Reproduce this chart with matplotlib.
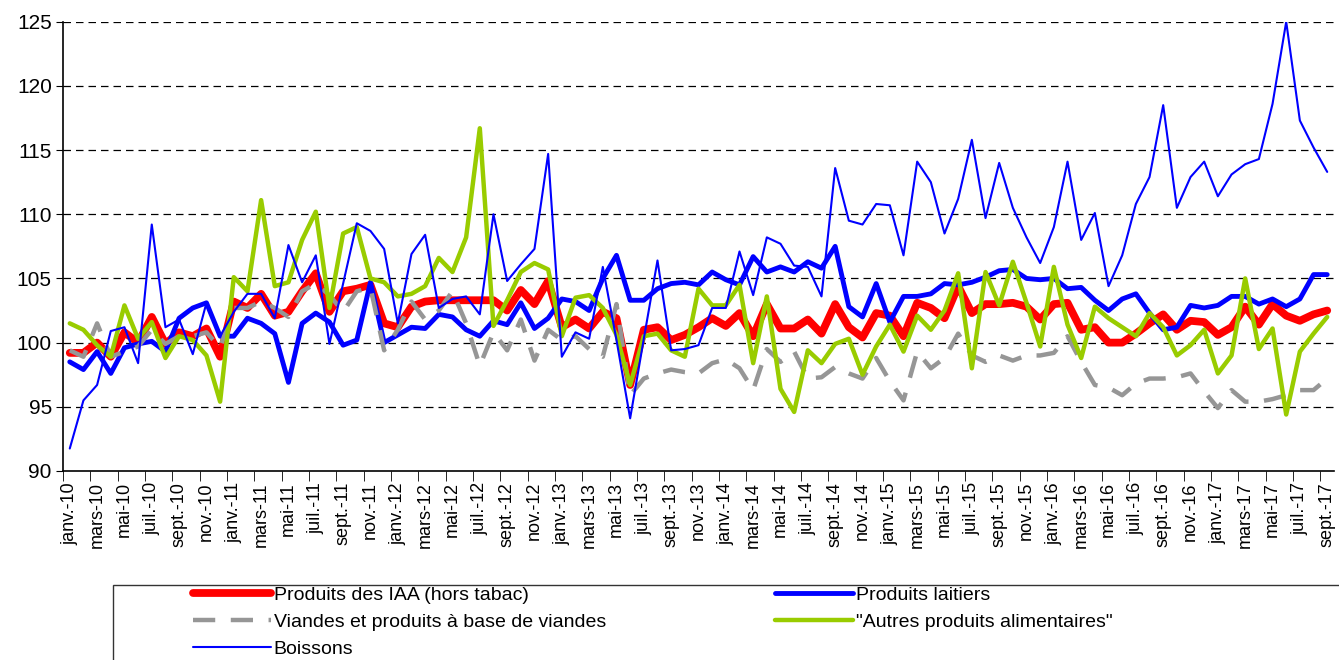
import numpy as np
import matplotlib
matplotlib.use("Agg")
import matplotlib.pyplot as plt
from matplotlib.patches import Rectangle

plt.rcParams["font.family"] = ["Liberation Sans", "DejaVu Sans"]

# Months janv.-10 .. sept.-17
month_names = ["janv.", "févr.", "mars", "avr.", "mai", "juin",
               "juil.", "août", "sept.", "oct.", "nov.", "déc."]
years = ["10", "11", "12", "13", "14", "15", "16", "17"]
labels = [m + "-" + y for y in years for m in month_names][:93]

iaa = [99.2, 99.2, 100.0, 98.9, 100.8, 100.0, 102.0, 99.9, 100.8, 100.5, 101.1, 98.9,
       103.2, 102.7, 103.8, 102.1, 102.4, 104.0, 105.4, 102.4, 104.0, 104.2, 104.5, 101.5,
       101.2, 102.8, 103.2, 103.3, 103.3, 103.3, 103.3, 103.3, 102.5, 104.1, 103.0, 104.8,
       101.2, 101.8, 101.1, 102.4, 101.9, 96.7, 101.0, 101.2, 100.2, 100.6, 101.2, 101.9,
       101.3, 102.3, 100.5, 103.0, 101.1, 101.1, 101.8, 100.7, 103.0, 101.2, 100.4, 102.3,
       102.1, 100.5, 103.1, 102.7, 101.9, 104.4, 102.3, 103.0, 103.0, 103.1, 102.8, 101.8,
       103.0, 103.1, 101.0, 101.2, 100.0, 100.0, 100.7, 101.5, 102.2, 101.0, 101.7, 101.6,
       100.6, 101.2, 102.8, 101.4, 103.0, 102.1, 101.7, 102.2, 102.5]

laitiers = [98.5, 97.9, 99.3, 97.6, 99.6, 99.9, 100.1, 99.3, 101.9, 102.7, 103.1, 100.5,
            100.5, 101.9, 101.5, 100.7, 96.9, 101.5, 102.3, 101.6, 99.8, 100.2, 104.7, 100.0,
            100.6, 101.2, 101.1, 102.2, 102.0, 101.0, 100.5, 101.7, 101.4, 103.1, 101.1, 101.9,
            103.4, 103.2, 102.5, 105.0, 106.8, 103.3, 103.3, 104.2, 104.6, 104.7, 104.5, 105.5,
            104.9, 104.5, 106.7, 105.5, 105.9, 105.5, 106.3, 105.8, 107.5, 102.8, 102.0, 104.6,
            101.6, 103.6, 103.6, 103.8, 104.6, 104.5, 104.7, 105.1, 105.6, 105.7, 105.0, 104.9,
            105.0, 104.2, 104.3, 103.3, 102.5, 103.4, 103.8, 102.3, 101.0, 101.2, 102.9, 102.7,
            102.9, 103.6, 103.6, 103.0, 103.4, 102.8, 103.4, 105.3, 105.3]

viandes = [99.4, 98.9, 101.5, 98.9, 99.3, 99.7, 101.0, 99.9, 100.5, 100.5, 100.8, 99.6,
           102.7, 102.7, 103.2, 102.7, 102.0, 104.0, 104.6, 103.7, 102.4, 104.0, 104.3, 99.4,
           101.0, 103.2, 101.8, 102.5, 104.0, 101.5, 98.2, 100.8, 99.4, 101.8, 98.6, 101.0,
           100.2, 100.5, 99.5, 98.9, 103.0, 95.9, 97.2, 97.6, 97.9, 97.7, 97.6, 98.4,
           98.7, 98.0, 96.3, 99.5, 98.5, 99.3, 97.2, 97.3, 98.1, 97.6, 97.2, 98.8,
           97.0, 95.5, 99.3, 98.0, 98.8, 100.7, 99.0, 98.5, 99.0, 98.6, 99.0, 99.0,
           99.2, 100.5, 98.5, 96.7, 96.5, 95.9, 96.8, 97.2, 97.2, 97.3, 97.6, 96.2,
           94.9, 96.3, 95.4, 95.4, 95.6, 95.9, 96.3, 96.3, 97.2]

autres = [101.5, 101.0, 99.8, 98.9, 102.9, 100.3, 101.6, 98.8, 100.5, 100.2, 99.0, 95.4,
          105.1, 104.0, 111.1, 104.4, 104.7, 108.0, 110.2, 102.7, 108.5, 109.0, 105.0, 104.7,
          103.6, 103.8, 104.4, 106.6, 105.5, 108.2, 116.7, 101.3, 103.3, 105.5, 106.2, 105.7,
          100.5, 103.5, 103.7, 102.7, 100.6, 96.7, 100.5, 100.7, 99.4, 98.9, 104.2, 102.9,
          102.9, 104.5, 98.4, 103.6, 96.4, 94.6, 99.4, 98.4, 99.9, 100.3, 97.5, 99.7,
          101.4, 99.3, 102.1, 101.0, 102.5, 105.4, 98.0, 105.5, 102.9, 106.3, 103.1, 99.7,
          105.9, 101.4, 98.8, 102.8, 101.9, 101.2, 100.5, 102.3, 101.2, 99.0, 99.8, 101.0,
          97.6, 99.0, 105.0, 99.5, 101.1, 94.4, 99.3, 100.7, 102.0]

boissons = [91.75, 95.5, 96.7, 100.9, 101.2, 98.4, 109.2, 101.2, 101.8, 99.1, 103.1, 100.5,
            102.4, 103.8, 103.8, 101.9, 107.6, 104.7, 106.8, 99.9, 104.6, 109.3, 108.7, 107.3,
            101.5, 106.9, 108.4, 102.7, 103.4, 103.6, 102.2, 110.0, 104.8, 106.1, 107.3, 114.7,
            98.9, 100.8, 100.3, 105.9, 100.2, 94.1, 100.3, 106.4, 99.4, 99.5, 99.8, 102.7,
            102.7, 107.1, 103.7, 108.2, 107.7, 106.0, 105.9, 103.6, 113.6, 109.5, 109.2, 110.8,
            110.7, 106.8, 114.1, 112.5, 108.5, 111.2, 115.8, 109.7, 114.0, 110.5, 108.2, 106.2,
            109.0, 114.1, 108.0, 110.1, 104.4, 106.8, 110.8, 112.9, 118.5, 110.5, 112.9, 114.1,
            111.4, 113.1, 113.9, 114.3, 118.6, 125.0, 117.3, 115.2, 113.3]

x = np.arange(len(labels))

fig = plt.figure(figsize=(13.39, 6.6), dpi=100)
ax = fig.add_axes([0.047, 0.2864, 0.9493, 0.6807])

rnd = dict(solid_joinstyle="round", solid_capstyle="round")
l1, = ax.plot(x, iaa, color="#FF0000", lw=5.6, label="Produits des IAA (hors tabac)", **rnd)
l2, = ax.plot(x, laitiers, color="#0000FF", lw=3.5, label="Produits laitiers", **rnd)
l3, = ax.plot(x, viandes, color="#969696", lw=3.2, dashes=(5, 3.5),
              label="Viandes et produits à base de viandes")
l4, = ax.plot(x, autres, color="#99CC00", lw=3.2, label='"Autres produits alimentaires"', **rnd)
l5, = ax.plot(x, boissons, color="#0000FF", lw=1.5, label="Boissons", **rnd)

ax.set_xlim(-0.5, len(labels) - 0.5)
ax.set_ylim(90, 125)
ax.set_yticks(np.arange(90, 126, 5))
ax.tick_params(axis="y", labelsize=15, length=5, direction="out", pad=3)
for v in range(95, 126, 5):
    ax.axhline(v, color="black", lw=0.9, dashes=(6, 4), zorder=0)

ax.set_xticks(x[::2])
ax.set_xticklabels(labels[::2], rotation=90, fontsize=13)
ax.tick_params(axis="x", which="major", length=0, pad=8)
ax.set_xticks(np.arange(-0.5, len(labels), 2), minor=True)
ax.tick_params(axis="x", which="minor", length=7, direction="out")

for s in ["top", "right"]:
    ax.spines[s].set_visible(False)
for s in ["left", "bottom"]:
    ax.spines[s].set_linewidth(1.2)

# legend box (cut by the figure edges, as in the source)
fig.patches.append(Rectangle((113 / 1339, -0.05), 1.0, 1 - 585 / 660 + 0.05,
                             transform=fig.transFigure, fill=False,
                             edgecolor="#333333", lw=1.0))
leg_kw = dict(frameon=False, fontsize=14, handlelength=4.0, handletextpad=0.15,
              labelspacing=0.5, borderaxespad=0, borderpad=0, loc="upper left")
fig.legend(handles=[l1, l3, l5], bbox_to_anchor=(193 / 1339, 1 - 586 / 660), **leg_kw)
fig.legend(handles=[l2, l4], bbox_to_anchor=(775 / 1339, 1 - 586 / 660), **leg_kw)

fig.savefig("out.png", dpi=100)
